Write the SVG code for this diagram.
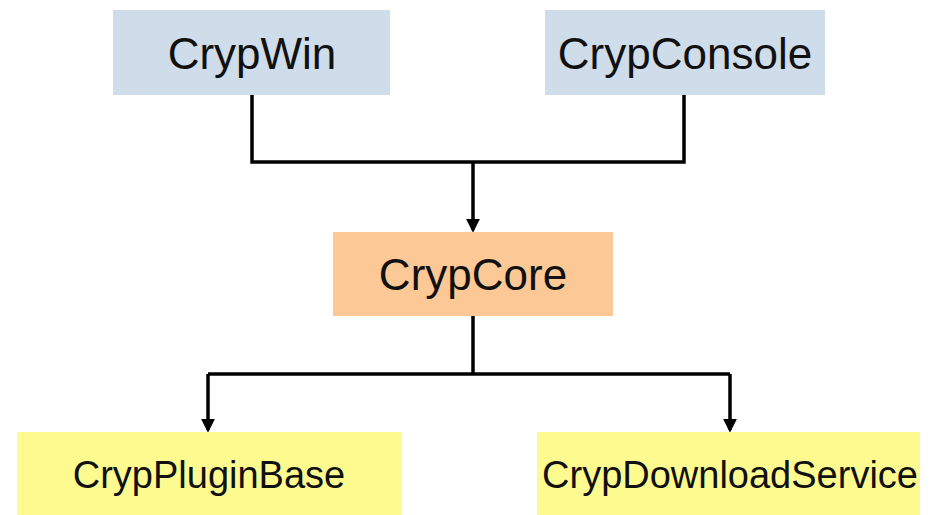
<svg xmlns="http://www.w3.org/2000/svg" width="929" height="515" viewBox="0 0 929 515">
<style>
.t{font-family:"Liberation Sans",Arial,sans-serif;fill:#111;text-anchor:middle}
.big{font-size:44px}
.small{font-size:38px}
.c{fill:none;stroke:#000;stroke-width:3.5}
</style>
<defs>
<marker id="ah" markerWidth="4" markerHeight="4" refX="3.2" refY="2" orient="auto" markerUnits="strokeWidth">
<path d="M0,0 L4,2 L0,4 Z" fill="#000"/>
</marker>
</defs>
<rect width="929" height="515" fill="#fff"/>
<g id="connectors">
<path class="c" d="M252,95 V162 H684 V95"/>
<path class="c" d="M473,162 V230" marker-end="url(#ah)"/>
<path class="c" d="M473,316 V374"/>
<path class="c" d="M208,374 H730"/>
<path class="c" d="M208,374 V430" marker-end="url(#ah)"/>
<path class="c" d="M730,374 V430" marker-end="url(#ah)"/>
</g>
<g id="crypwin">
<rect x="113" y="10" width="277" height="85" fill="#cfdce9"/>
<text class="t big" x="252" y="69">CrypWin</text>
</g>
<g id="crypconsole">
<rect x="545" y="10" width="280" height="85" fill="#cfdce9"/>
<text class="t big" x="685" y="69">CrypConsole</text>
</g>
<g id="crypcore">
<rect x="333" y="232" width="280" height="84" fill="#fbc896"/>
<text class="t big" x="473" y="290">CrypCore</text>
</g>
<g id="cryppluginbase">
<rect x="17" y="432" width="385" height="83" fill="#fdfb8f"/>
<text class="t small" x="209" y="488">CrypPluginBase</text>
</g>
<g id="crypdownloadservice">
<rect x="537" y="432" width="383" height="83" fill="#fdfb8f"/>
<text class="t small" x="730" y="488">CrypDownloadService</text>
</g>
</svg>
